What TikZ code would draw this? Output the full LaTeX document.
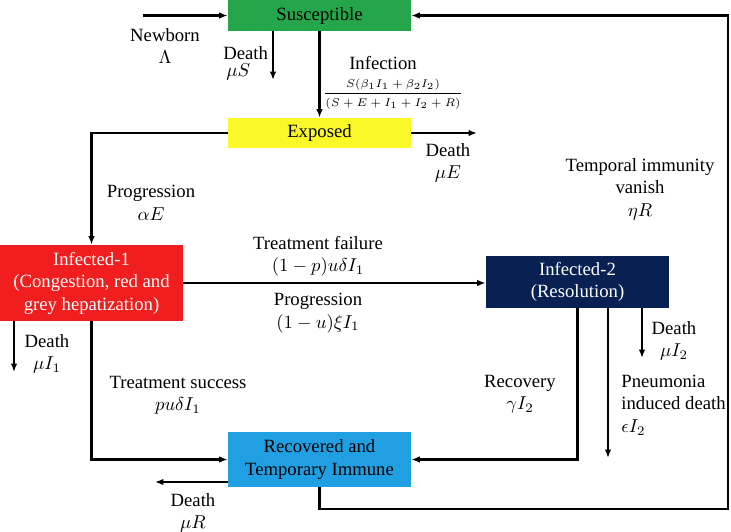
\documentclass[tikz,border=0pt]{standalone}
\usepackage{fontspec}
\setmainfont{Liberation Serif}
\usetikzlibrary{arrows.meta}
\definecolor{S}{RGB}{38,166,74}
\definecolor{E}{RGB}{250,248,40}
\definecolor{Ione}{RGB}{240,30,30}
\definecolor{Itwo}{RGB}{8,32,82}
\definecolor{R}{RGB}{32,160,226}
\tikzset{
  box/.style={minimum width=97.9pt, inner sep=0pt, align=center},
  arr/.style={-{Latex[length=4.5pt,width=3.5pt]}, line width=1.1pt},
  lbl/.style={align=center, inner sep=0pt}
}

\begin{document}
\begin{tikzpicture}[x=0.535pt,y=-0.535pt]
\useasboundingbox (0,0) rectangle (731,531);
% compartments
\node[box, fill=S, minimum height=16.6pt] (sus) at (319.5,15.5) {Susceptible};
\node[box, fill=E, minimum height=16.1pt] (exp) at (319.5,133) {Exposed};
\node[box, fill=Ione, text=white, minimum height=40.7pt] (inf1) at (91.5,283) {Infected-1\\(Congestion, red and\\grey hepatization)};
\node[box, fill=Itwo, text=white, minimum height=27.8pt] (inf2) at (577.5,282) {Infected-2\\(Resolution)};
\node[box, fill=R, minimum height=29.4pt] (rec) at (319.5,459.5) {Recovered and\\Temporary Immune};
% free ends
\coordinate (nb) at (143,15.5);
\coordinate (dS) at (273,80);
\coordinate (dE) at (477,133);
\coordinate (dI1) at (14,372);
\coordinate (pn) at (608,458);
\coordinate (dI2) at (642,358);
\coordinate (dR) at (155,482);
\coordinate (back) at (728,509);
% flows
\draw[arr] (nb) -- (sus.west);
\draw[arr] (sus.south -| dS) -- (dS);
\draw[arr] (sus) -- (exp);
\draw[arr] (exp) -- (dE);
\draw[arr] (exp.west) -| (inf1.north);
\draw[arr] (inf1.east) -- (inf1.east -| inf2.west);
\draw[arr] (inf1.south -| dI1) -- (dI1);
\draw[arr] (inf1.south) |- (rec.west);
\draw[arr] (inf2.south) |- (rec.east);
\draw[arr] (inf2.south -| pn) -- (pn);
\draw[arr] (inf2.south -| dI2) -- (dI2);
\draw[arr] (rec.west |- dR) -- (dR);
\draw[arr] (rec.south) |- (back) |- (sus.east);
% rates
\node[lbl] (lnb) at (165,46) {Newborn\\$\Lambda$};
\node[lbl, align=left, anchor=west] (ldS) at (223,63) {Death\\[-3pt]\,$\mu S$};
\node[lbl] (linf) at (383,63) {Infection};
\node[lbl] (lrate) at (393,94) {\fontsize{6.2}{7}\selectfont$\displaystyle\frac{S(\beta_1I_1+\beta_2I_2)}{(S+E+I_1+I_2+R)}$};
\node[lbl] (ldE) at (448,163) {Death\\$\mu E$};
\node[lbl] (lprog) at (151,203) {Progression\\$\alpha E$};
\node[lbl] (lfail) at (318,256) {Treatment failure\\$(1-p)u\delta I_1$};
\node[lbl] (lprog2) at (318,313) {Progression\\$(1-u)\xi I_1$};
\node[lbl] (ldI1) at (47,354) {Death\\$\mu I_1$};
\node[lbl] (lsucc) at (178,395) {Treatment success\\$pu\delta I_1$};
\node[lbl] (lrec) at (520,394) {Recovery\\$\gamma I_2$};
\node[lbl, align=left, anchor=west] (lpn) at (621,405) {Pneumonia\\induced death\\$\epsilon I_2$};
\node[lbl] (ldI2) at (674,341) {Death\\$\mu I_2$};
\node[lbl] (limm) at (640,189) {Temporal immunity\\vanish\\$\eta R$};
\node[lbl] (ldR) at (193,513) {Death\\$\mu R$};
\end{tikzpicture}
\end{document}
